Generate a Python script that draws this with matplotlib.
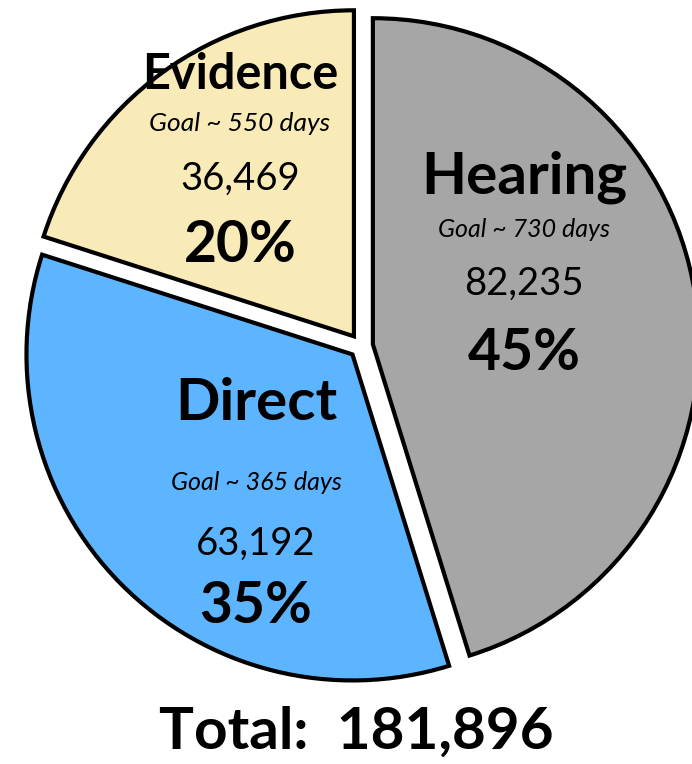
import matplotlib
matplotlib.use("Agg")
import matplotlib.pyplot as plt

# data
categories = ["Hearing", "Direct", "Evidence"]
counts = [82235, 63192, 36469]
goals = ["Goal ~ 730 days", "Goal ~ 365 days", "Goal ~ 550 days"]
colors = ["#A6A6A6", "#5EB5FF", "#F8EBB7"]

# layout (figure pixels, y measured from the top)
W, H = 692, 764
center = (361, 346)
radius = 326
# x centre, then baselines of title / goal / count / percent
label_pos = {
    "Hearing": (524, [193, 237, 295, 370]),
    "Direct": (256, [420, 490, 555, 623]),
    "Evidence": (240, [89, 131, 190, 262]),
}
title_size = {"Hearing": 42, "Direct": 42, "Evidence": 35}
goal_size = {"Hearing": 18, "Direct": 18, "Evidence": 19}

plt.rcParams["font.family"] = ["Lato", "DejaVu Sans"]

fig = plt.figure(figsize=(W / 100, H / 100), dpi=100)
ax = fig.add_axes([0, 0, 1, 1])

ax.pie(counts, colors=colors, startangle=90, counterclock=False,
       explode=[12] * len(counts), radius=radius,
       center=(center[0], H - center[1]),
       wedgeprops=dict(edgecolor="black", linewidth=3))

ax.set_xlim(0, W)
ax.set_ylim(0, H)
ax.set_aspect("equal")
ax.axis("off")

total = sum(counts)
for name, n, goal in zip(categories, counts, goals):
    x, ys = label_pos[name]
    ys = [H - v for v in ys]
    pct = round(100 * n / total)
    ax.text(x, ys[0], name, ha="center", va="baseline",
            fontsize=title_size[name], fontweight="bold")
    ax.text(x, ys[1], goal, ha="center", va="baseline",
            fontsize=goal_size[name], fontstyle="italic")
    ax.text(x, ys[2], f"{n:,}", ha="center", va="baseline", fontsize=27.5)
    ax.text(x, ys[3], f"{pct}%", ha="center", va="baseline",
            fontsize=41, fontweight="bold")

ax.text(356, H - 749, f"Total:  {total:,}", ha="center", va="baseline",
        fontsize=42, fontweight="bold")

fig.savefig("out.png", dpi=100)
